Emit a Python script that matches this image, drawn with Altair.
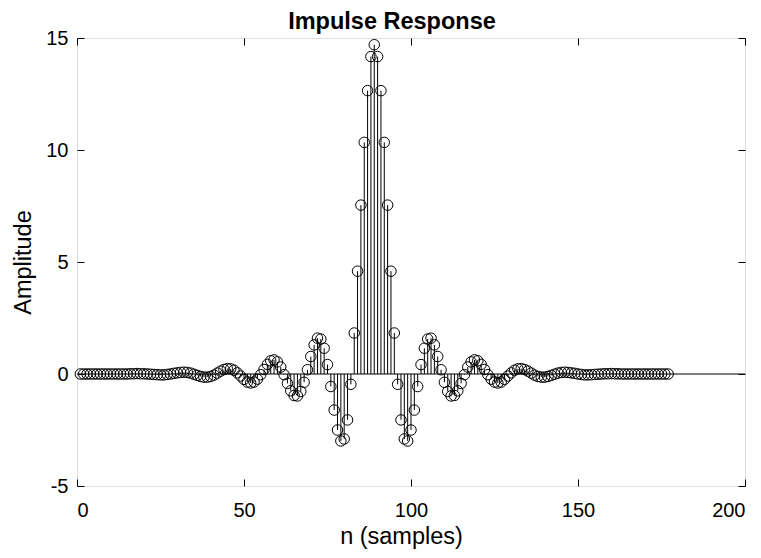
import altair as alt
import pandas as pd

FONT = "Liberation Sans"

# sample index
n_values = list(range(1, 178))

# amplitudes, n = 1 .. 88
left_amps = [
    0.00, 0.00, 0.00, 0.00, 0.00, 0.00, 0.00, 0.00, 0.00, 0.00, 0.00, 0.00, 0.00,
    0.00, 0.00, 0.01, 0.01, 0.02, 0.01, 0.01, 0.00, -0.01, -0.02, -0.03, -0.04,
    -0.04, -0.02, 0.00, 0.03, 0.05, 0.07, 0.08, 0.07, 0.04, -0.01, -0.06, -0.11,
    -0.14, -0.14, -0.11, -0.05, 0.04, 0.13, 0.20, 0.24, 0.23, 0.17, 0.05, -0.09,
    -0.24, -0.36, -0.40, -0.36, -0.23, -0.03, 0.20, 0.43, 0.59, 0.63, 0.54, 0.31,
    -0.03, -0.42, -0.75, -0.96, -0.98, -0.78, -0.37, 0.19, 0.78, 1.30, 1.60, 1.56,
    1.15, 0.42, -0.56, -1.61, -2.50, -2.99, -2.90, -2.05, -0.46, 1.83, 4.59, 7.54,
    10.34, 12.65, 14.17,
]
# n = 89
peak_amp = [14.70]
# n = 90 .. 177
right_amps = [
    14.17, 12.65, 10.34, 7.54, 4.59, 1.83, -0.46, -2.05, -2.90, -2.99, -2.50, -1.61,
    -0.56, 0.42, 1.15, 1.56, 1.60, 1.30, 0.78, 0.19, -0.37, -0.78, -0.98, -0.96,
    -0.75, -0.42, -0.03, 0.31, 0.54, 0.63, 0.59, 0.43, 0.20, -0.03, -0.23, -0.36,
    -0.40, -0.36, -0.24, -0.09, 0.05, 0.17, 0.23, 0.24, 0.20, 0.13, 0.04, -0.05,
    -0.11, -0.14, -0.14, -0.11, -0.06, -0.01, 0.04, 0.07, 0.08, 0.07, 0.05, 0.03,
    0.00, -0.02, -0.04, -0.04, -0.03, -0.02, -0.01, 0.00, 0.01, 0.01, 0.02, 0.01,
    0.01, 0.00, 0.00, 0.00, 0.00, 0.00, 0.00, 0.00, 0.00, 0.00, 0.00, 0.00, 0.00,
    0.00, 0.00, 0.00,
]
amplitudes = left_amps + peak_amp + right_amps

x_ticks = [0, 50, 100, 150, 200]
y_ticks = [-5, 0, 5, 10, 15]

df = pd.DataFrame({"n": n_values, "amp": amplitudes})
zero_df = pd.DataFrame({"zero": [0]})

xscale = alt.Scale(domain=[0, 200], nice=False, zero=False)
yscale = alt.Scale(domain=[-5, 15], nice=False, zero=False)

TICK = {"expr": "-7"}
PLAIN = "'' + datum.value"

x_bottom = alt.Axis(
    orient="bottom", title="n (samples)", values=x_ticks, grid=False, domain=False,
    tickSize=TICK, tickColor="black", labelPadding=21, labelFontSize=20,
    labelFont=FONT, labelColor="black", titleFont=FONT, titleFontSize=23.5,
    titleFontWeight="normal", titleColor="black", titlePadding=4,
    labelExpr=PLAIN, titleX=324,
)
y_left = alt.Axis(
    orient="left", title="Amplitude", values=y_ticks, grid=False, domain=False,
    tickSize=TICK, tickColor="black", labelPadding=16, labelFontSize=20,
    labelFont=FONT, labelColor="black", titleFont=FONT, titleFontSize=23.5,
    titleFontWeight="normal", titleColor="black", titlePadding=10,
    labelExpr=PLAIN,
)
x_top = alt.Axis(
    orient="top", title=None, values=x_ticks, grid=False, domain=False,
    labels=False, tickSize=TICK, tickColor="black",
)
y_right = alt.Axis(
    orient="right", title=None, values=y_ticks, grid=False, domain=False,
    labels=False, tickSize=TICK, tickColor="black",
)

base = alt.Chart(df)

zero_line = alt.Chart(zero_df).mark_rule(color="black", strokeWidth=1).encode(
    y=alt.Y("zero:Q", scale=yscale, axis=None),
)

stems = base.mark_rule(color="black", strokeWidth=1).encode(
    x=alt.X("n:Q", scale=xscale, axis=x_bottom),
    y=alt.Y("amp:Q", scale=yscale, axis=y_left),
    y2=alt.datum(0),
)

circles = base.mark_point(
    shape="circle", filled=False, color="black", size=110, strokeWidth=1, opacity=1
).encode(
    x=alt.X("n:Q", scale=xscale, axis=None),
    y=alt.Y("amp:Q", scale=yscale, axis=None),
)

frame_axes = base.mark_point(opacity=0).encode(
    x=alt.X("n:Q", scale=xscale, axis=x_top),
    y=alt.Y("amp:Q", scale=yscale, axis=y_right),
)

chart = (
    alt.layer(zero_line, stems, circles, frame_axes)
    .resolve_axis(x="independent", y="independent")
    .properties(
        width=668,
        height=448,
        autosize=alt.AutoSizeParams(type="none"),
        padding={"left": 69, "top": 30, "right": 8, "bottom": 64},
        title=alt.Title(
            "Impulse Response", font=FONT, fontSize=23.5, fontWeight="bold",
            color="black", anchor="middle", offset=6, dx=-19, dy=11,
        ),
    )
    .configure_view(stroke="black", strokeWidth=1)
    .configure(background="white")
)

chart.save("out.html", embed_options={"renderer": "svg", "actions": False})
